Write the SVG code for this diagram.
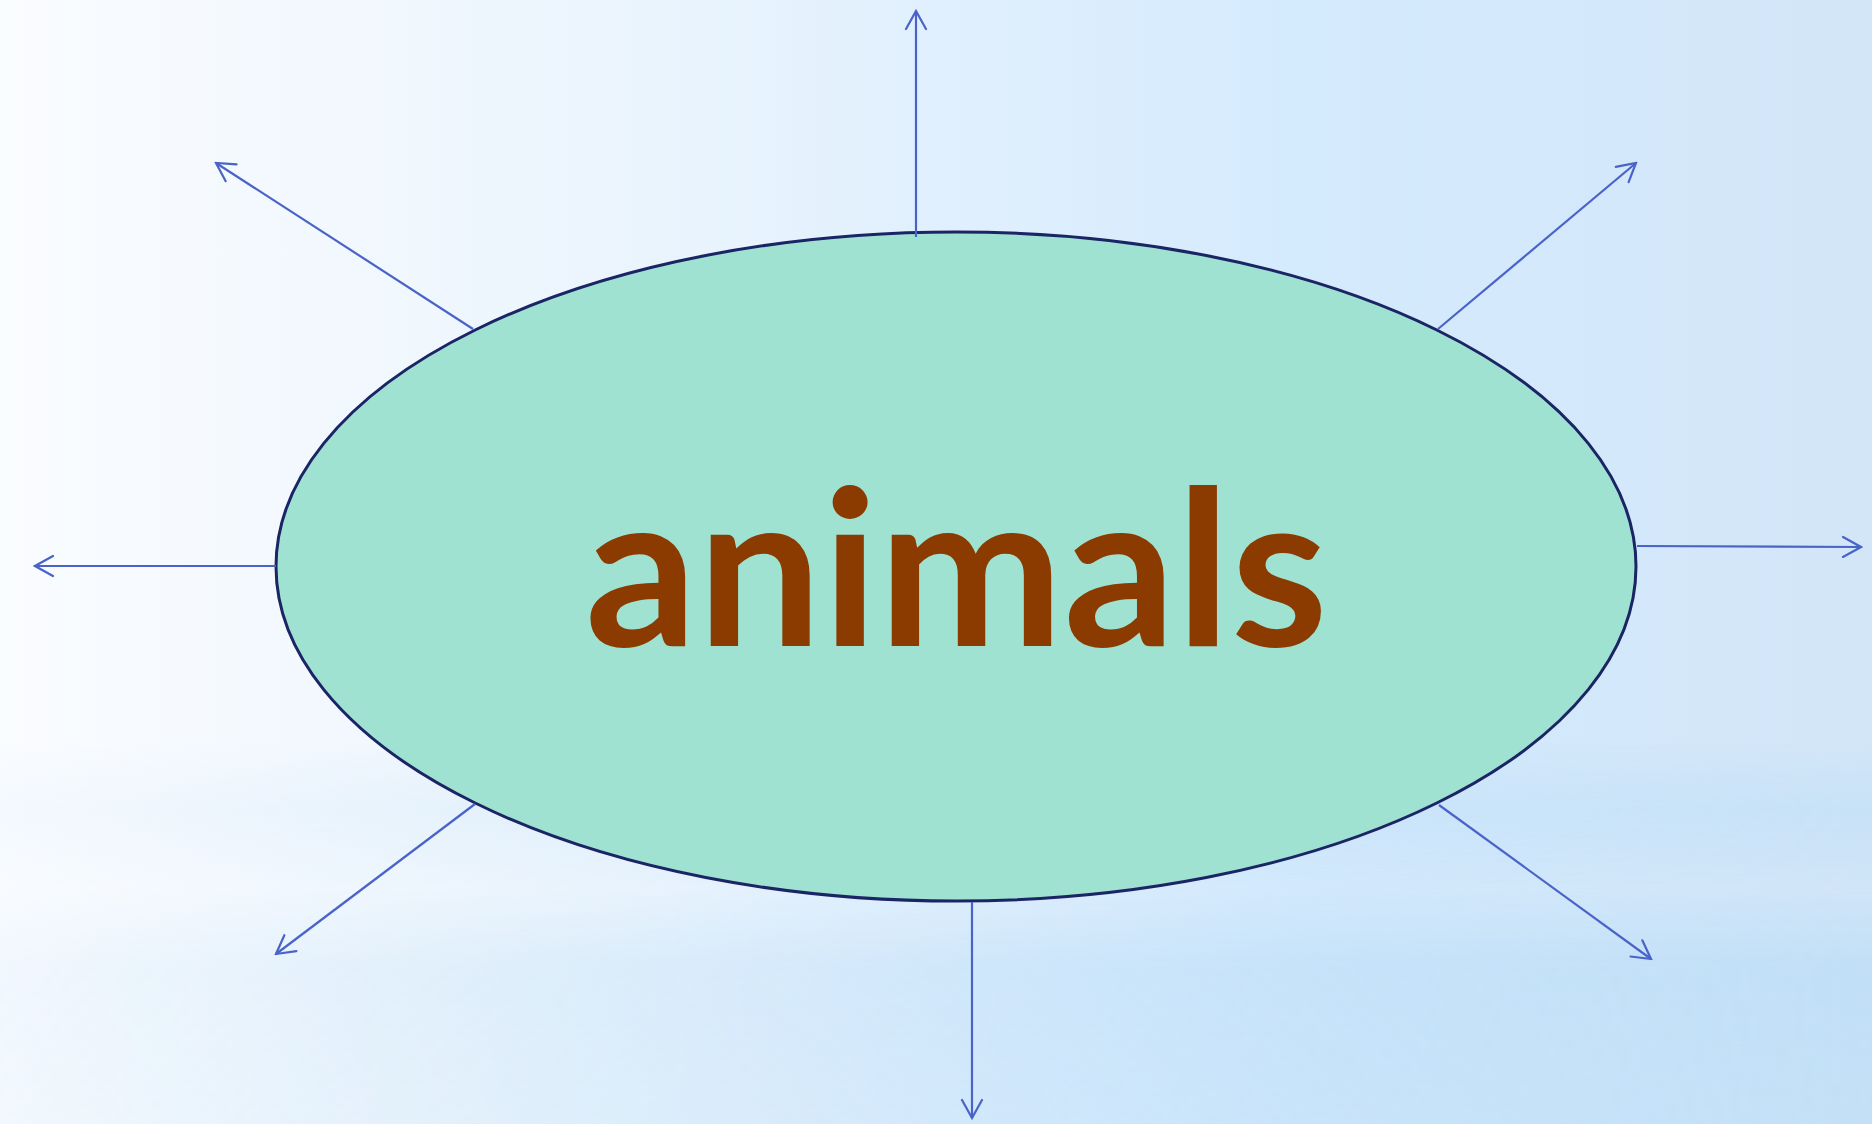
<svg xmlns="http://www.w3.org/2000/svg" width="1872" height="1124" viewBox="0 0 1872 1124">
  <defs>
    <linearGradient id="bgH" x1="0" y1="0" x2="1" y2="0">
      <stop offset="0" stop-color="#FAFCFF"/>
      <stop offset="0.35" stop-color="#EAF4FD"/>
      <stop offset="0.7" stop-color="#D4EAFD"/>
      <stop offset="1" stop-color="#D3E6F8"/>
    </linearGradient>
    <linearGradient id="bgV" x1="0" y1="0" x2="0" y2="1">
      <stop offset="0" stop-color="#BADCF6" stop-opacity="0"/>
      <stop offset="0.66" stop-color="#BADCF6" stop-opacity="0"/>
      <stop offset="0.72" stop-color="#BADCF6" stop-opacity="0.45"/>
      <stop offset="0.79" stop-color="#BADCF6" stop-opacity="0.1"/>
      <stop offset="0.86" stop-color="#BADCF6" stop-opacity="0.7"/>
      <stop offset="1" stop-color="#BADCF6" stop-opacity="0.6"/>
    </linearGradient>
    <linearGradient id="fadeH" x1="0" y1="0" x2="1" y2="0">
      <stop offset="0" stop-color="#fff" stop-opacity="0.2"/>
      <stop offset="0.5" stop-color="#fff" stop-opacity="0.6"/>
      <stop offset="1" stop-color="#fff" stop-opacity="1"/>
    </linearGradient>
    <mask id="m" maskUnits="userSpaceOnUse" x="0" y="0" width="1872" height="1124">
      <rect x="0" y="0" width="1872" height="1124" fill="url(#fadeH)"/>
    </mask>
    <marker id="arr" viewBox="-20 -12 22 24" refX="0" refY="0" markerWidth="22" markerHeight="24" markerUnits="userSpaceOnUse" orient="auto">
      <path d="M-18,-10 L0,0 L-18,10" fill="none" stroke="#4A63C8" stroke-width="2.2" stroke-linecap="round"/>
    </marker>
  </defs>
  <style>
    .edge { stroke: #4A63C8; stroke-width: 2.2; fill: none; marker-end: url(#arr); }
    .node { fill: #A0E2D2; stroke: #1B2566; stroke-width: 3; }
    .label { font-family: Lato, "Liberation Sans", sans-serif; font-weight: 700; font-size: 216px; fill: #8B3A00; }
  </style>
  <rect x="0" y="0" width="1872" height="1124" fill="url(#bgH)"/>
  <rect x="0" y="0" width="1872" height="1124" fill="url(#bgV)" mask="url(#m)"/>
  <g id="node-animals">
    <ellipse class="node" cx="956" cy="566.5" rx="680" ry="334.5"/>
    <text class="label" x="956.5" y="646" text-anchor="middle" textLength="743" lengthAdjust="spacingAndGlyphs">animals</text>
  </g>
  <g id="connectors">
    <line class="edge" x1="473" y1="329" x2="216" y2="163"/>
    <line class="edge" x1="916" y1="237" x2="916" y2="11"/>
    <line class="edge" x1="1438" y1="329" x2="1636" y2="163"/>
    <line class="edge" x1="276" y1="566" x2="35" y2="566"/>
    <line class="edge" x1="1637" y1="546" x2="1861" y2="547"/>
    <line class="edge" x1="475" y1="804" x2="276" y2="954"/>
    <line class="edge" x1="1439" y1="805" x2="1651" y2="959"/>
    <line class="edge" x1="972" y1="902" x2="972" y2="1118"/>
  </g>
</svg>
